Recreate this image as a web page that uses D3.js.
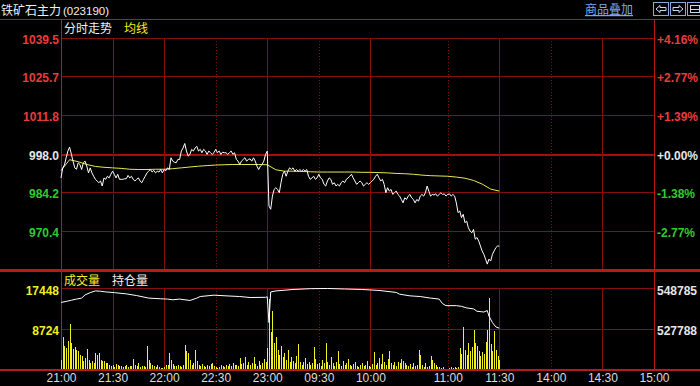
<html>
<script src="https://d3js.org/d3.v7.min.js"></script>
<style>
body { margin: 0; background: #000; }
text { font-family: "Liberation Sans", Arial, sans-serif; }
.cn { font-family: "Noto Sans CJK SC", sans-serif; }
</style>
<body>
<svg width=700 height=386></svg>
<script>
// ---- data ----
var prevClose = 998.0;
var priceTicks = [1039.5, 1025.7, 1011.8, 998.0, 984.2, 970.4];
var pctLabels = ["+4.16%", "+2.77%", "+1.39%", "+0.00%", "-1.38%", "-2.77%"];
var volTicks = [17448, 8724];
var oiTicks = [548785, 527788];
var timeLabels = ["21:00","21:30","22:00","22:30","23:00","09:30","10:00","11:00","11:30","14:00","14:30","15:00"];
var dottedLabels = ["22:30","09:30","11:00","14:00"];

// 1-minute prices, 21:00 - 23:00
var nightPrice = [989.4, 993.0, 994.0, 996.6, 999.0, 1000.4, 997.9, 995.4, 993.0, 992.5,
 994.8, 994.2, 992.4, 994.8, 995.4, 993.6, 991.2, 993.0, 991.2, 990.0,
 988.9, 988.3, 987.7, 988.3, 986.5, 989.4, 988.9, 990.0, 989.4, 990.7,
 991.8, 990.7, 989.4, 990.7, 988.9, 988.9, 988.9, 989.1, 989.1, 990.3,
 989.4, 990.0, 988.9, 988.3, 988.9, 989.4, 988.3, 987.7, 988.9, 990.0,
 991.2, 991.8, 992.4, 991.5, 992.1, 991.2, 991.8, 991.5, 992.4, 991.2,
 992.4, 992.0, 993.0, 992.4, 996.6, 995.4, 995.0, 994.8, 996.0, 996.0,
 999.0, 1000.1, 1001.7, 999.0, 997.2, 997.8, 999.6, 999.0, 1000.1, 1000.7,
 999.0, 999.6, 998.4, 999.6, 999.0, 997.8, 999.0, 998.4, 997.8, 998.4,
 999.6, 998.4, 999.0, 997.8, 998.6, 998.4, 998.4, 997.8, 998.4, 999.0,
 997.8, 998.4, 996.0, 995.4, 994.2, 995.4, 996.0, 996.6, 995.4, 996.0,
 996.2, 995.4, 996.6, 995.4, 993.6, 992.4, 993.6, 994.2, 995.4, 997.8,
 999.0];
// 09:01 - 10:15
var dayPrice1 = [979.4, 978.2, 982.9, 985.3, 985.9, 985.3, 984.1, 987.7, 990.7, 991.8,
 990.0, 991.8, 993.0, 992.4, 993.0, 991.8, 992.4, 991.8, 992.4, 991.8,
 992.4, 991.8, 992.4, 990.0, 988.9, 989.4, 990.0, 988.9, 989.4, 990.7,
 989.4, 988.9, 987.1, 986.5, 988.3, 989.4, 988.9, 987.1, 987.7, 986.5,
 987.1, 986.5, 987.7, 988.3, 987.7, 988.9, 989.4, 990.0, 990.7, 989.4,
 988.3, 987.1, 987.7, 988.3, 987.7, 986.5, 987.1, 987.7, 987.1, 987.7,
 988.3, 988.9, 990.0, 990.7, 989.4, 988.3, 988.9, 987.1, 984.1, 985.9,
 984.7, 985.3, 983.5, 984.1, 984.7];
// 10:31 - 11:30
var dayPrice2 = [983.5, 982.9, 981.7, 980.5, 982.3, 981.7, 982.9, 983.5, 982.3, 981.7,
 980.5, 981.7, 981.1, 982.9, 983.5, 982.9, 984.1, 986.5, 984.7, 982.9,
 983.5, 983.3, 983.7, 982.9, 983.5, 984.1, 983.5, 983.7, 982.9, 983.5,
 983.7, 982.9, 983.5, 982.9, 980.5, 977.0, 977.6, 975.2, 976.4, 973.4,
 974.0, 971.6, 970.4, 969.8, 971.0, 967.5, 968.1, 966.9, 965.1, 963.3,
 962.1, 960.4, 958.6, 960.4, 959.7, 962.1, 963.3, 964.5, 965.1, 965.0];

// average price, every 5 trading minutes from 21:00
var avgPrice = [992.0, 995.9, 995.2, 994.2, 993.5, 993.2, 993.0, 992.8, 992.5, 992.4,
 992.4, 992.5, 992.5, 992.7, 993.0, 993.3, 993.6, 993.8, 994.0, 994.1,
 994.2, 994.2, 994.2, 994.2, 994.1, 992.3, 991.8, 991.8, 991.7, 991.6,
 991.5, 991.5, 991.5, 991.5, 991.5, 991.4, 991.4, 991.3, 991.2, 991.0,
 990.9, 990.7, 990.4, 990.2, 990.1, 990.0, 989.7, 989.3, 988.5, 987.2,
 985.4, 984.7];

// volume per minute
var nightVol = [2000, 7000, 4900, 4600, 6000, 9660, 5700, 4400, 4800, 4050,
 3800, 3100, 2750, 1650, 2400, 4400, 2000, 1300, 1650, 1300,
 3350, 3100, 3350, 2000, 1650, 1650, 1300, 1300, 950, 700,
 900, 500, 1100, 800, 600, 700, 400, 600, 900, 500,
 700, 600, 2200, 800, 600, 1300, 500, 700, 600, 400,
 4900, 2000, 1300, 900, 700, 500, 800, 400, 300, 300,
 500, 900, 800, 3350, 2000, 1100, 700, 600, 900, 600,
 500, 800, 5100, 3800, 3500, 2000, 900, 1200, 4200, 1650,
 900, 600, 1000, 700, 500, 800, 600, 1100, 1300, 700,
 500, 300, 400, 800, 600, 500, 900, 600, 1000, 700,
 1300, 900, 800, 600, 2400, 1100, 1200, 2600, 900, 1500,
 800, 1200, 2600, 1000, 700, 1800, 900, 1400, 2200, 1500,
 4500];
var dayVol1 = [15000, 8000, 12500, 5500, 7000, 4000, 3000, 5000, 2500, 3500,
 2000, 4200, 1500, 2600, 1800, 1200, 2800, 5300, 1500, 900,
 1600, 2400, 1100, 1500, 800, 1300, 4800, 2100, 1000, 1400,
 700, 2000, 1200, 5500, 1600, 900, 2500, 1200, 600, 1500,
 3800, 1000, 700, 1800, 900, 1200, 2200, 800, 600, 1000,
 1500, 700, 500, 900, 1300, 600, 800, 1800, 700, 500,
 1100, 3700, 900, 1400, 2400, 1000, 3200, 1500, 800, 2200,
 3900, 1200, 900, 1600, 700];
var dayVol2 = [1500, 1200, 2200, 1650, 1300, 900, 600, 1000, 500, 1300,
 700, 800, 4050, 3100, 800, 500, 1300, 500, 600, 2900,
 2000, 1300, 800, 500, 400, 300, 400, 0, 0, 0,
 300, 400, 300, 400, 300, 500, 4600, 3300, 8950, 4200,
 3100, 5500, 3800, 4800, 8500, 5700, 5000, 3900, 2700, 3600,
 3300, 5800, 8300, 15300, 5400, 3900, 8200, 4200, 2700, 2000];

// open interest
var oiTimes = ["21:00","21:03","21:06","21:09","21:12","21:14","21:17","21:20","21:23","21:26",
 "21:31","21:38","21:44","21:51","21:58","22:02","22:05","22:09","22:15","22:19",
 "22:21","22:29","22:36","22:44","22:50","22:59","23:00","09:01","09:02","09:05",
 "09:15","09:25","09:35","09:45","09:55","10:05","10:15","10:32","10:38","10:44",
 "10:50","10:55","10:57","10:59","11:05","11:08","11:11","11:15","11:17","11:21",
 "11:23","11:24","11:26","11:28","11:30"];
var oiValues = [541311, 541820, 542430, 543040, 543548, 545226, 546395, 547260, 547108, 546751,
 546395, 545735, 544870, 543548, 543193, 543040, 542684, 543040, 542328, 543548,
 544362, 545074, 544718, 544362, 543853, 543955, 544210, 530889, 546751, 547260,
 548022, 548429, 548530, 548277, 548022, 547514, 546497, 545582, 544718, 544362,
 543548, 543040, 540651, 539634, 539634, 539278, 538464, 537956, 536736, 536329,
 537092, 534194, 530838, 528601, 527941];

// trading time -> minute index (21:00-23:00, 09:00-10:15, 10:30-11:30, 13:30-15:00)
function toMinute(t) {
  var p = t.split(":").map(Number);
  var v = p[0] * 60 + p[1];
  if (p[0] >= 21) return v - 1260;
  if (v <= 615) return 120 + v - 540;
  if (v <= 690) return 195 + v - 630;
  return 255 + v - 810;
}

var priceData = [];
nightPrice.forEach(function(p, i) { priceData.push({m: i, p: p}); });
dayPrice1.forEach(function(p, i) { priceData.push({m: 121 + i, p: p}); });
dayPrice2.forEach(function(p, i) { priceData.push({m: 196 + i, p: p}); });
var volData = [];
nightVol.forEach(function(v, i) { volData.push({m: i, v: v}); });
dayVol1.forEach(function(v, i) { volData.push({m: 121 + i, v: v}); });
dayVol2.forEach(function(v, i) { volData.push({m: 196 + i, v: v}); });
var oiData = oiTimes.map(function(t, i) { return {m: toMinute(t), v: oiValues[i]}; });

// ---- scales ----
var x = d3.scaleLinear().domain([0, 345]).range([61, 654]);
var y = d3.scaleLinear().domain([956.5, 1039.5]).range([270, 37.7]);
var yv = d3.scaleLinear().domain([0, 17448]).range([369, 288]);
var yo = d3.scaleLinear().domain([506791, 548785]).range([369, 288]);

var red = "#e83c3c", green = "#2ecc2e", white = "#e6e6e6", yellow = "#f0f020";
var gridColor = "#850f0f", borderColor = "#b41c1c";

var svg = d3.select("svg");
svg.append("rect").attr("width", 700).attr("height", 386).attr("fill", "#000");

// ---- grid ----
var g = svg.append("g").attr("shape-rendering", "crispEdges");
g.selectAll(".hp").data(priceTicks).enter().append("line")
  .attr("x1", 61).attr("x2", 654)
  .attr("y1", function(d) { return Math.round(y(d)) + 0.5; })
  .attr("y2", function(d) { return Math.round(y(d)) + 0.5; })
  .attr("stroke", function(d) { return d == prevClose ? "#a01010" : gridColor; })
  .attr("stroke-width", function(d) { return d == prevClose ? 2 : 1; });
g.selectAll(".hv").data(volTicks).enter().append("line")
  .attr("x1", 61).attr("x2", 654)
  .attr("y1", function(d) { return Math.round(yv(d)) + 0.5; })
  .attr("y2", function(d) { return Math.round(yv(d)) + 0.5; })
  .attr("stroke", gridColor);

var innerTimes = timeLabels.slice(1, timeLabels.length - 1);
[[37.7, 270], [288, 369]].forEach(function(r) {
  g.selectAll(null).data(innerTimes).enter().append("line")
    .attr("x1", function(d) { return Math.round(x(toMinute(d))) + 0.5; })
    .attr("x2", function(d) { return Math.round(x(toMinute(d))) + 0.5; })
    .attr("y1", r[0]).attr("y2", r[1])
    .attr("stroke", gridColor)
    .attr("stroke-dasharray", function(d) { return dottedLabels.indexOf(d) >= 0 ? "1,2" : null; });
});

// borders
g.append("line").attr("x1", 0).attr("x2", 700).attr("y1", 19.5).attr("y2", 19.5).attr("stroke", borderColor);
g.append("line").attr("x1", 0).attr("x2", 700).attr("y1", 270).attr("y2", 270).attr("stroke", borderColor).attr("stroke-width", 3);
g.append("line").attr("x1", 0).attr("x2", 700).attr("y1", 369.5).attr("y2", 369.5).attr("stroke", borderColor).attr("stroke-width", 2);
[x(0), x(345)].forEach(function(px) {
  g.append("line").attr("x1", Math.round(px) + 0.5).attr("x2", Math.round(px) + 0.5)
    .attr("y1", 19).attr("y2", 370).attr("stroke", borderColor);
});

// ---- volume bars ----
svg.append("g").attr("shape-rendering", "crispEdges")
  .selectAll("line").data(volData.filter(function(d) { return d.v > 0; })).enter().append("line")
  .attr("x1", function(d) { return Math.round(x(d.m)) + 0.5; })
  .attr("x2", function(d) { return Math.round(x(d.m)) + 0.5; })
  .attr("y1", yv(0))
  .attr("y2", function(d) { return yv(d.v); })
  .attr("stroke", yellow);

// ---- lines ----
var priceLine = d3.line().x(function(d) { return x(d.m); }).y(function(d) { return y(d.p); });
var avgLine = d3.line().x(function(d, i) { return x(i * 5); }).y(function(d) { return y(d); });
var oiLine = d3.line().x(function(d) { return x(d.m); }).y(function(d) { return yo(d.v); });

svg.append("path").datum(avgPrice).attr("d", avgLine)
  .attr("fill", "none").attr("stroke", "#e8e850").attr("stroke-width", 1);
svg.append("path").datum(priceData).attr("d", priceLine)
  .attr("fill", "none").attr("stroke", "#ffffff").attr("stroke-width", 1);
svg.append("path").datum(oiData).attr("d", oiLine)
  .attr("fill", "none").attr("stroke", "#ffffff").attr("stroke-width", 1);

// ---- axis labels ----
function priceColor(d) { return d > prevClose ? red : (d < prevClose ? green : white); }
svg.selectAll(".pl").data(priceTicks).enter().append("text")
  .attr("x", 59).attr("y", function(d) { return y(d) + 6; })
  .attr("text-anchor", "end").attr("font-size", 12).attr("font-weight", "bold")
  .attr("fill", priceColor)
  .text(function(d) { return d.toFixed(1); });
svg.selectAll(".pr").data(priceTicks).enter().append("text")
  .attr("x", 657).attr("y", function(d) { return y(d) + 6; })
  .attr("font-size", 12).attr("font-weight", "bold")
  .attr("fill", priceColor)
  .text(function(d, i) { return pctLabels[i]; });
svg.selectAll(".vl").data(volTicks).enter().append("text")
  .attr("x", 59).attr("y", function(d) { return yv(d) + 6.5; })
  .attr("text-anchor", "end").attr("font-size", 12).attr("font-weight", "bold")
  .attr("fill", yellow).text(function(d) { return d; });
svg.selectAll(".ol").data(oiTicks).enter().append("text")
  .attr("x", 657).attr("y", function(d) { return yo(d) + 6.5; })
  .attr("font-size", 12).attr("font-weight", "bold")
  .attr("fill", white).text(function(d) { return d; });

// time axis
var tAxis = svg.append("g").attr("transform", "translate(0,371)")
  .call(d3.axisBottom(x).tickValues(timeLabels.map(toMinute))
    .tickFormat(function(d, i) { return timeLabels[i]; }).tickSize(0).tickPadding(2));
tAxis.select(".domain").remove();
tAxis.selectAll("text").attr("font-size", 12).attr("fill", "#dcdcdc")
  .attr("font-family", "Liberation Sans, Arial, sans-serif");

// ---- header texts ----
svg.append("text").attr("class", "cn").attr("x", 1).attr("y", 15).attr("font-size", 12)
  .attr("fill", "#f0f0f0").text("铁矿石主力");
svg.append("text").attr("x", 63).attr("y", 15).attr("font-size", 11.5)
  .attr("fill", "#f0f0f0").text("(023190)");
svg.append("text").attr("class", "cn").attr("x", 64).attr("y", 33).attr("font-size", 12)
  .attr("fill", "#f0f0f0").text("分时走势");
svg.append("text").attr("class", "cn").attr("x", 124).attr("y", 33).attr("font-size", 12)
  .attr("fill", yellow).text("均线");
svg.append("text").attr("class", "cn").attr("x", 64).attr("y", 285).attr("font-size", 12)
  .attr("fill", yellow).text("成交量");
svg.append("text").attr("class", "cn").attr("x", 112).attr("y", 285).attr("font-size", 12)
  .attr("fill", "#f0f0f0").text("持仓量");
svg.append("text").attr("class", "cn").attr("x", 585).attr("y", 14).attr("font-size", 12)
  .attr("fill", "#7aa6f0").attr("text-decoration", "underline").text("商品叠加");

// small buttons
var btn = svg.append("g").attr("shape-rendering", "crispEdges");
[653, 670, 687].forEach(function(bx, i) {
  btn.append("rect").attr("x", bx + 0.5).attr("y", 2.5).attr("width", 15).attr("height", 13)
    .attr("fill", "#000").attr("stroke", "#8aa8dc");
});
btn.append("path").attr("d", "M656,9 L660,5.5 L660,7.5 L666,7.5 L666,10.5 L660,10.5 L660,12.5 Z")
  .attr("fill", "none").attr("stroke", "#c8d8f4").attr("shape-rendering", "auto");
btn.append("path").attr("d", "M683,9 L679,5.5 L679,7.5 L673,7.5 L673,10.5 L679,10.5 L679,12.5 Z")
  .attr("fill", "none").attr("stroke", "#c8d8f4").attr("shape-rendering", "auto");
btn.append("rect").attr("x", 690.5).attr("y", 5.5).attr("width", 9).attr("height", 7)
  .attr("fill", "none").attr("stroke", "#c8d8f4");
btn.append("line").attr("x1", 690).attr("x2", 700).attr("y1", 9.5).attr("y2", 9.5).attr("stroke", "#c8d8f4");
</script>
</body>
</html>
